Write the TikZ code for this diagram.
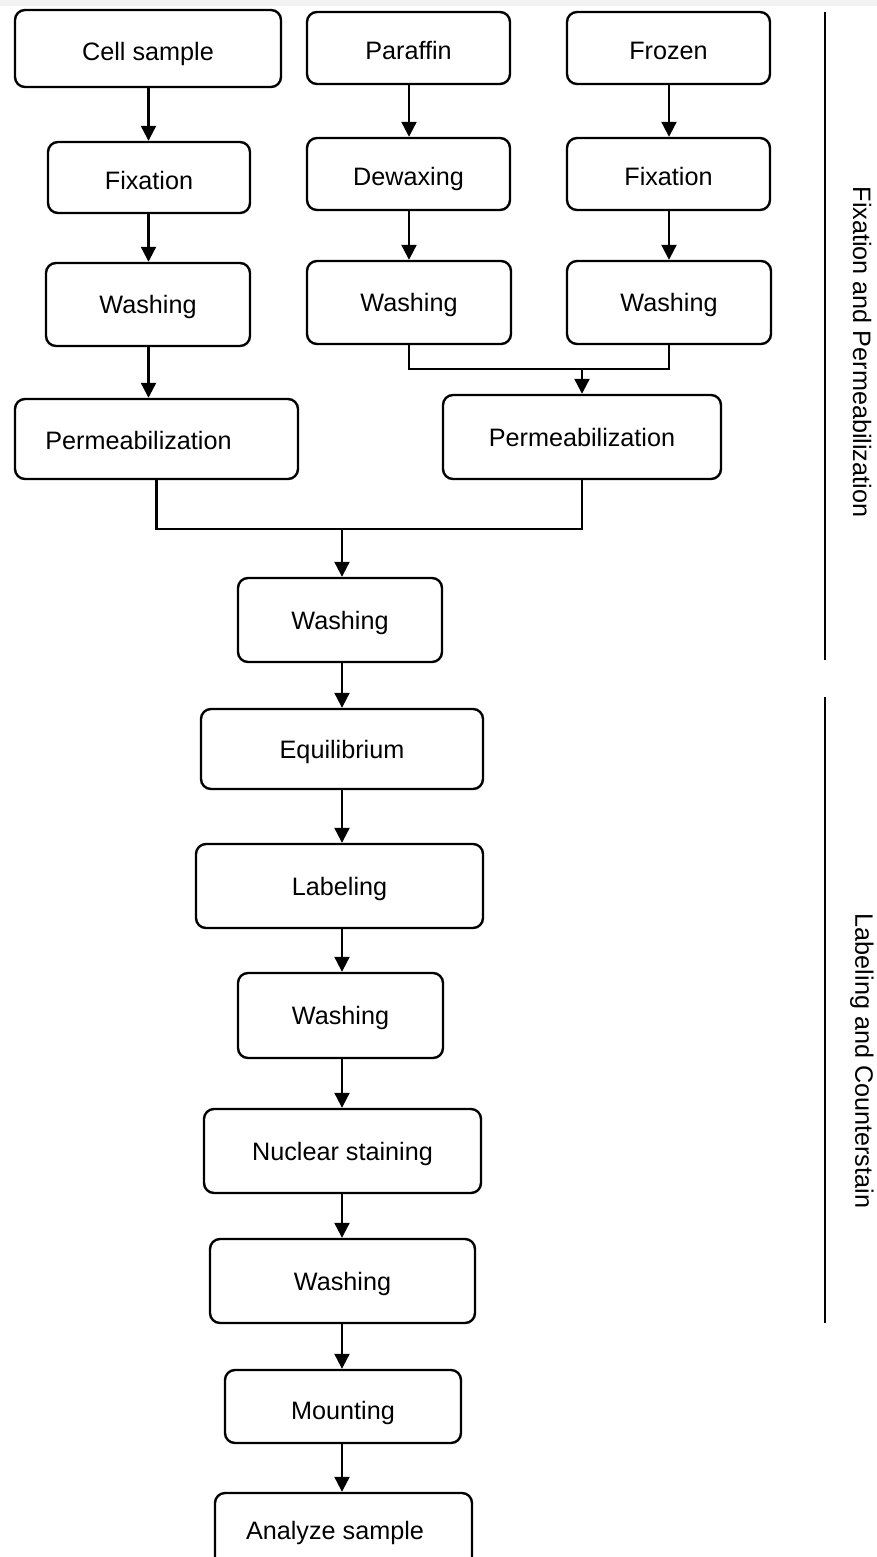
\documentclass[tikz,border=0pt]{standalone}
\usepackage{fontspec}
\setmainfont{Liberation Sans}
\usetikzlibrary{arrows.meta}
\begin{document}
\begin{tikzpicture}[x=0.5pt,y=-0.5pt,
  box/.style 2 args={draw, line width=1.2pt, rounded corners=5pt, inner sep=0pt,
    minimum width=#1, minimum height=#2,
    font=\fontsize{12.6pt}{15pt}\selectfont, text height=12pt, text depth=2.6pt},
  hi/.style={text height=14.5pt},
  txt/.style={inner sep=0pt, font=\fontsize{12.6pt}{15pt}\selectfont, text height=9pt, text depth=2.6pt},
  side/.style={inner sep=0pt, font=\fontsize{12.6pt}{15pt}\selectfont, rotate=-90},
  conn/.style={line width=1.1pt},
  arr/.style={line width=1.1pt, -{Triangle[length=7.5pt,width=7.5pt]}},
  rule/.style={line width=0.6pt}]
\useasboundingbox (0,0) rectangle (877,1557);
\fill[black!5] (0,0) rectangle (877,6);
% column coordinates
\coordinate (colL) at (148.5,0);
\coordinate (colM) at (409,0);
\coordinate (colR) at (669,0);
\coordinate (colC) at (342,0);
% boxes
\node[box={133pt}{38.5pt}, hi] (cell) at (148,48.5) {Cell sample};
\node[box={101pt}{35.5pt}, hi] (fixL) at (149,177.5) {Fixation};
\node[box={102pt}{41.5pt}] (washL) at (148,304.5) {Washing};
\node[box={101.5pt}{36pt}, hi] (par) at (408.5,48) {Paraffin};
\node[box={101.5pt}{36pt}, hi] (dew) at (408.5,174) {Dewaxing};
\node[box={102pt}{41.5pt}] (washM) at (409,302.5) {Washing};
\node[box={101.5pt}{36pt}, hi] (fro) at (668.5,48) {Frozen};
\node[box={101.5pt}{36pt}, hi] (fixR) at (668.5,174) {Fixation};
\node[box={102pt}{41.5pt}] (washR) at (669,302.5) {Washing};
\node[box={141.5pt}{40pt}] (permL) at (156.5,439) {};
\node[txt] (permLt) at (138.5,443) {Permeabilization};
\node[box={139pt}{42pt}] (permR) at (582,437) {Permeabilization};
\node[box={102pt}{42pt}] (wash1) at (340,620) {Washing};
\node[box={141pt}{40pt}] (equi) at (342,749) {Equilibrium};
\node[box={143.5pt}{42pt}] (lab) at (339.5,886) {Labeling};
\node[box={102.5pt}{42.5pt}] (wash2) at (340.5,1015.5) {Washing};
\node[box={138.5pt}{42pt}] (nuc) at (342.5,1151) {Nuclear staining};
\node[box={132.5pt}{42pt}] (wash3) at (342.5,1281) {Washing};
\node[box={118pt}{36.5pt}] (mount) at (343,1406.5) {};
\node[txt] (mountt) at (343,1413) {Mounting};
\node[box={128.5pt}{43.5pt}] (anal) at (343.5,1536.5) {};
\node[txt] (analt) at (335,1533) {Analyze sample};
% left column
\draw[arr] (cell.south -| colL) -- (fixL.north -| colL);
\draw[arr] (fixL.south -| colL) -- (washL.north -| colL);
\draw[arr] (washL.south -| colL) -- (permL.north -| colL);
% middle column
\draw[arr] (par.south -| colM) -- (dew.north -| colM);
\draw[arr] (dew.south -| colM) -- (washM.north -| colM);
% right column
\draw[arr] (fro.south -| colR) -- (fixR.north -| colR);
\draw[arr] (fixR.south -| colR) -- (washR.north -| colR);
% merge 1
\coordinate (j1) at (582,369);
\draw[conn] (washM.south -| colM) |- (j1) -| (washR.south -| colR);
\draw[arr] (j1) -- (permR.north);
% merge 2
\coordinate (j2) at (342,529);
\draw[conn] (permL.south) |- (j2) -| (permR.south);
\draw[arr] (j2) -- (wash1.north -| colC);
% central column
\draw[arr] (wash1.south -| colC) -- (equi.north -| colC);
\draw[arr] (equi.south -| colC) -- (lab.north -| colC);
\draw[arr] (lab.south -| colC) -- (wash2.north -| colC);
\draw[arr] (wash2.south -| colC) -- (nuc.north -| colC);
\draw[arr] (nuc.south -| colC) -- (wash3.north -| colC);
\draw[arr] (wash3.south -| colC) -- (mount.north -| colC);
\draw[arr] (mount.south -| colC) -- (anal.north -| colC);
% side rules and labels
\coordinate (r1a) at (825,12);
\coordinate (r1b) at (825,660);
\coordinate (r2a) at (825,697);
\coordinate (r2b) at (825,1323);
\draw[rule] (r1a) -- (r1b);
\draw[rule] (r2a) -- (r2b);
\node[side] (s1) at (862,352) {Fixation and Permeabilization};
\node[side] (s2) at (862,1061) {Labeling and Counterstain};
\end{tikzpicture}
\end{document}
